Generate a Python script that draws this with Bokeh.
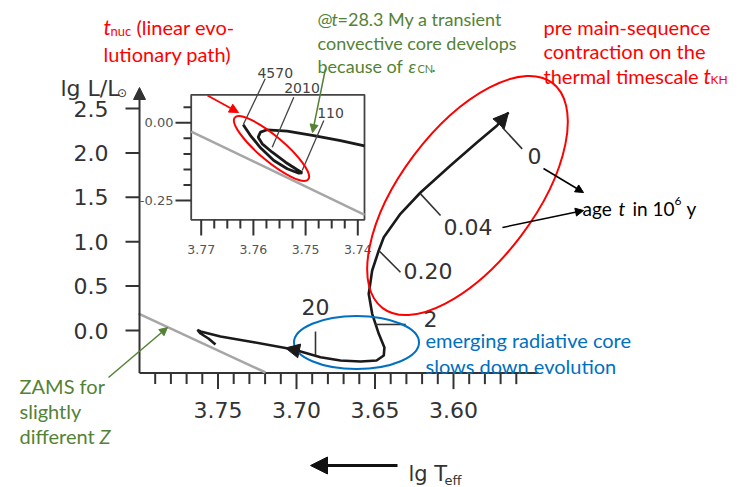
import numpy as np
from bokeh.plotting import figure
from bokeh.models import Range1d, Arrow, NormalHead
from bokeh.core.properties import value
from bokeh.embed import file_html
from bokeh.resources import INLINE

# ---------------- data ----------------
# pre-main-sequence track of a 1 M_sun star: lg T_eff, lg L/L_sun
track_lgT = [3.5650, 3.5722, 3.5849, 3.6019, 3.6210, 3.6338, 3.6444, 3.6476, 3.6518, 3.6540,
             3.6518, 3.6476, 3.6440, 3.6444, 3.6490, 3.6592, 3.6720, 3.6847, 3.6996, 3.7070,
             3.7272, 3.7484, 3.7611, 3.7631, 3.7611, 3.7561, 3.7516]
track_lgL = [2.455, 2.309, 2.120, 1.858, 1.554, 1.314, 1.051, 0.901, 0.676, 0.413,
             0.188, -0.037, -0.191, -0.282, -0.338, -0.349, -0.338, -0.301, -0.225, -0.197,
             -0.132, -0.068, -0.011, 0.006, -0.034, -0.090, -0.158]

# ages along the track (10^6 yr)
age_text = ["0", "0.04", "0.20", "2", "20"]
age_lgT = [3.5690, 3.6210, 3.6476, 3.6500, 3.6879]
age_lgL = [2.289, 1.539, 0.901, 0.068, -0.282]

# zero-age main sequence
zams_lgT = [3.8006, 3.7197]
zams_lgL = [0.191, -0.473]

# axis ticks
xtick_major = [3.75, 3.70, 3.65, 3.60]
xtick_labels = ["3.75", "3.70", "3.65", "3.60"]
xtick_minor = [3.79, 3.78, 3.77, 3.76, 3.74, 3.73, 3.72, 3.71, 3.69, 3.68, 3.67, 3.66,
               3.64, 3.63, 3.62, 3.61, 3.59, 3.58, 3.57, 3.56]
ytick_major = [0.0, 0.5, 1.0, 1.5, 2.0, 2.5]
ytick_labels = ["0.0", "0.5", "1.0", "1.5", "2.0", "2.5"]

# zoomed view of the main-sequence end of the track
inset_track_lgT = [3.73872, 3.74331, 3.74843, 3.75352, 3.75736, 3.75864, 3.75908, 3.75831,
                   3.75640, 3.75385, 3.75161, 3.75065, 3.75130, 3.75352, 3.75609, 3.75864,
                   3.76056, 3.76195]
inset_track_lgL = [-0.0746, -0.0570, -0.0409, -0.0270, -0.0225, -0.0302, -0.0463, -0.0676,
                   -0.0946, -0.1268, -0.1512, -0.1609, -0.1622, -0.1480, -0.1213, -0.0804,
                   -0.0409, -0.0064]
inset_zams_lgT = [3.7719, 3.7387]
inset_zams_lgL = [-0.028, -0.296]
inset_age_text = ["110", "2010", "4570"]
inset_age_lgT = [3.75065, 3.75640, 3.76195]
inset_age_lgL = [-0.1535, -0.0785, -0.0064]
inset_xtick_major = [3.77, 3.76, 3.75, 3.74]
inset_xtick_labels = ["3.77", "3.76", "3.75", "3.74"]
inset_xtick_minor = [3.7675, 3.765, 3.7625, 3.7575, 3.755, 3.7525,
                     3.7475, 3.745, 3.7425]
inset_ytick_major = [0.0, -0.25]
inset_ytick_labels = ["0.00", "-0.25"]
inset_ytick_minor = [0.05, -0.05, -0.10, -0.15, -0.20]

# ---------------- canvas geometry ----------------
W, H = 749, 487
T_REF, T_PX, T_SCALE = 3.75, 217.5, 1570.0      # main panel: px per dex in lg T_eff
L_PX0, L_SCALE = 330.0, 88.8                     # main panel: px per dex in lg L
I_T_REF, I_T_PX, I_T_SCALE = 3.77, 200.7, 5220.0  # inset
I_L_PX0, I_L_SCALE = 122.3, 310.8


def mx(px):
    return T_REF - (px - T_PX) / T_SCALE


def my(py):
    return (L_PX0 - py) / L_SCALE


def ix(px):
    return I_T_REF - (px - I_T_PX) / I_T_SCALE


def iy(py):
    return (I_L_PX0 - py) / I_L_SCALE


p = figure(width=W, height=H,
           x_range=Range1d(mx(0), mx(W)), y_range=Range1d(my(H), my(0)),
           x_axis_location=None, y_axis_location=None, toolbar_location=None,
           output_backend="svg", min_border=0, outline_line_color=None,
           background_fill_color="white", border_fill_color="white")
p.xgrid.grid_line_color = None
p.ygrid.grid_line_color = None
p.grid.visible = False
p.extra_x_ranges = {"inset": Range1d(ix(0), ix(W))}
p.extra_y_ranges = {"inset": Range1d(iy(H), iy(0))}
INSET = dict(x_range_name="inset", y_range_name="inset")

AXIS = "#333333"
RED, GREEN, BLUE = "#FF0000", "#548235", "#0070C0"
NUM_FONT = value("DejaVu Sans")
TXT_FONT = value("Lato")


def label(px, py, s, size, color, font=TXT_FONT, style="normal",
          align="left", baseline="alphabetic"):
    p.text(x=[mx(px)], y=[my(py)], text=[s], text_font=font,
           text_font_size=f"{size}px", text_color=color, text_font_style=style,
           text_align=align, text_baseline=baseline)


def arrow(a, b, color, size=9, width=1.5, line_alpha=1.0):
    p.add_layout(Arrow(end=NormalHead(size=size, fill_color=color, line_color=color,
                                      line_width=1),
                       x_start=mx(a[0]), y_start=my(a[1]), x_end=mx(b[0]), y_end=my(b[1]),
                       line_color=color, line_width=width, line_alpha=line_alpha))


# ---------------- main axes ----------------
AX_T, AX_L = 3.80, -0.48
AX_PX = T_PX + (T_REF - AX_T) * T_SCALE
p.segment(x0=[AX_T], y0=[AX_L], x1=[mx(538)], y1=[AX_L], line_color=AXIS, line_width=2)
arrow((AX_PX, L_PX0 - AX_L * L_SCALE), (AX_PX, 87), AXIS, size=12, width=2)

# x ticks (hanging below the axis)
p.segment(x0=xtick_minor, y0=[AX_L] * len(xtick_minor), x1=xtick_minor,
          y1=[AX_L - 11 / L_SCALE] * len(xtick_minor), line_color=AXIS, line_width=2)
p.segment(x0=xtick_major, y0=[AX_L] * len(xtick_major), x1=xtick_major,
          y1=[AX_L - 16 / L_SCALE] * len(xtick_major), line_color=AXIS, line_width=2)
p.text(x=xtick_major, y=[AX_L - 37 / L_SCALE] * len(xtick_major), text=xtick_labels,
       text_font=NUM_FONT, text_font_size="22px", text_color=AXIS,
       text_align="center", text_baseline="middle")

# y ticks (pointing left)
p.segment(x0=[AX_T] * len(ytick_major), y0=ytick_major,
          x1=[AX_T + 14 / T_SCALE] * len(ytick_major), y1=ytick_major,
          line_color=AXIS, line_width=2)
p.text(x=[AX_T + 31 / T_SCALE] * len(ytick_major), y=ytick_major, text=ytick_labels,
       text_font=NUM_FONT, text_font_size="22px", text_color=AXIS,
       text_align="right", text_baseline="middle")

# axis titles
label(60, 88, "lg L/L", 22, AXIS, font=NUM_FONT)
label(121.5, 92, "\u2299", 12, AXIS, font=NUM_FONT, align="center", baseline="middle")
arrow((397, 465), (310, 465), "#111111", size=17, width=3)
label(408, 473, "lg T", 21, AXIS, font=NUM_FONT)
label(444, 480, "eff", 13, AXIS, font=NUM_FONT)

# ---------------- main panel ----------------
p.line(zams_lgT, zams_lgL, line_color="#a6a6a6", line_width=2.5)
p.line(track_lgT, track_lgL, line_color="#1a1a1a", line_width=2.6)

# arrowheads on the track
p.add_layout(Arrow(end=NormalHead(size=15, fill_color="#1a1a1a", line_color="#1a1a1a"),
                   x_start=track_lgT[1], y_start=track_lgL[1],
                   x_end=track_lgT[0], y_end=track_lgL[0], line_alpha=0))
p.add_layout(Arrow(end=NormalHead(size=14, fill_color="#1a1a1a", line_color="#1a1a1a"),
                   x_start=track_lgT[18], y_start=track_lgL[18],
                   x_end=track_lgT[19], y_end=track_lgL[19], line_alpha=0))

# age markers: tick (screen offset) and label (screen offset)
tick_off = [(20, 21.6), (20, 21.7), (21.7, 21.7), (30.7, 0), (0, -24)]
label_off = [(25.3, 28.3), (23, 32.7), (24.7, 21), (48.5, -5.5), (0, -49)]
label_align = ["left", "left", "left", "left", "center"]
for s, t0, l0, (dx, dy), (lx, ly), al in zip(age_text, age_lgT, age_lgL, tick_off,
                                             label_off, label_align):
    p.segment(x0=[t0], y0=[l0], x1=[t0 - dx / T_SCALE], y1=[l0 - dy / L_SCALE],
              line_color="#333333", line_width=1.6)
    p.text(x=[t0], y=[l0], text=[s], x_offset=lx, y_offset=ly, text_font=NUM_FONT,
           text_font_size="22px", text_color="#333333", text_align=al,
           text_baseline="middle")

# ---------------- inset ----------------
p.quad(left=ix(190.7), right=ix(364), top=iy(94.3), bottom=iy(219.3),
       fill_color="white", line_color="#444444", line_width=1.8, **INSET)
p.segment(x0=inset_xtick_minor, y0=[iy(219.3)] * len(inset_xtick_minor),
          x1=inset_xtick_minor, y1=[iy(228)] * len(inset_xtick_minor),
          line_color="#333333", line_width=2, **INSET)
p.segment(x0=inset_xtick_major, y0=[iy(219.3)] * len(inset_xtick_major),
          x1=inset_xtick_major, y1=[iy(235)] * len(inset_xtick_major),
          line_color="#333333", line_width=2, **INSET)
p.text(x=inset_xtick_major, y=[iy(249)] * len(inset_xtick_major), text=inset_xtick_labels,
       text_font=NUM_FONT, text_font_size="12.5px", text_color="#555555",
       text_align="center", text_baseline="middle", **INSET)
p.segment(x0=[ix(190.7)] * len(inset_ytick_minor), y0=inset_ytick_minor,
          x1=[ix(183)] * len(inset_ytick_minor), y1=inset_ytick_minor,
          line_color="#333333", line_width=2, **INSET)
p.segment(x0=[ix(190.7)] * len(inset_ytick_major), y0=inset_ytick_major,
          x1=[ix(175)] * len(inset_ytick_major), y1=inset_ytick_major,
          line_color="#333333", line_width=2, **INSET)
p.text(x=[ix(173)] * len(inset_ytick_major), y=inset_ytick_major, text=inset_ytick_labels,
       text_font=NUM_FONT, text_font_size="13px", text_color="#555555",
       text_align="right", text_baseline="middle", **INSET)

p.line(inset_zams_lgT, inset_zams_lgL, line_color="#a6a6a6", line_width=2.5, **INSET)
p.line(inset_track_lgT, inset_track_lgL, line_color="#1a1a1a", line_width=2.8, **INSET)

inset_tick_off = [(21.6, -50), (21.6, -50), (22, -46)]
inset_label_off = [(28.3, -58), (29.8, -58.7), (32, -52)]
for s, t0, l0, (dx, dy), (lx, ly) in zip(inset_age_text, inset_age_lgT, inset_age_lgL,
                                         inset_tick_off, inset_label_off):
    p.segment(x0=[t0], y0=[l0], x1=[t0 - dx / I_T_SCALE], y1=[l0 - dy / I_L_SCALE],
              line_color="#444444", line_width=1.3, **INSET)
    p.text(x=[t0], y=[l0], text=[s], x_offset=lx, y_offset=ly, text_font=NUM_FONT,
           text_font_size="14px", text_color="#444444", text_align="center",
           text_baseline="middle", **INSET)

# ---------------- highlights ----------------
p.ellipse(x=[mx(271)], y=[my(148)], width=96, height=25, angle=-0.70,
          width_units="screen", height_units="screen",
          fill_color=None, line_color=RED, line_width=2)
p.ellipse(x=[mx(467)], y=[my(195)], width=282, height=134, angle=0.925,
          width_units="screen", height_units="screen",
          fill_color=None, line_color=RED, line_width=2)
p.ellipse(x=[mx(356)], y=[my(342)], width=125, height=53, angle=0.0,
          width_units="screen", height_units="screen",
          fill_color=None, line_color=BLUE, line_width=2)

# ---------------- notes ----------------
label(103, 26, "t", 21, RED, style="italic")
label(110, 30, "nuc", 13, RED)
label(136, 26, "(linear evo-", 20, RED)
label(103, 53, "lutionary path)", 20, RED)
arrow((207, 95), (238, 112), RED, size=9, width=1.8)

label(317, 18, "@", 18, GREEN)
label(331, 18, "t", 18, GREEN, style="italic")
label(337, 18, "=28.3 My a transient", 18, GREEN)
label(317, 42, "convective core develops", 18, GREEN)
label(317, 65, "because of ", 18, GREEN)
label(408, 65, "\u03b5", 18, GREEN, style="italic")
label(417, 68, "CN", 11, GREEN)
label(431, 65, ".", 18, GREEN)
arrow((325, 68), (312, 132), GREEN, size=8, width=1.5)

label(543, 26, "pre main-sequence", 20, RED)
label(543, 50, "contraction on the", 20, RED)
label(543, 75, "thermal timescale", 20, RED)
label(703, 75, "t", 21, RED, style="italic")
label(710, 79, "KH", 12, RED)

label(582, 208, "age", 19, "black")
label(618, 208, "t", 19, "black", style="italic")
label(632, 208, "in 10", 19, "black")
label(674, 200, "6", 12, "black")
label(686, 208, "y", 19, "black")
arrow((543, 168), (583, 192), "black", size=8, width=1.5)
arrow((502, 227), (583, 210), "black", size=8, width=1.5)

label(425, 339, "emerging radiative core", 20, BLUE)
label(425, 365, "slows down evolution", 20, BLUE)

label(19, 385, "ZAMS for", 20, GREEN)
label(19, 410, "slightly", 20, GREEN)
label(19, 435, "different", 20, GREEN)
label(99, 435, "Z", 20, GREEN, style="italic")
arrow((108, 377), (167, 327), GREEN, size=8, width=1.5)

open("out.html", "w").write(file_html(p, INLINE))
